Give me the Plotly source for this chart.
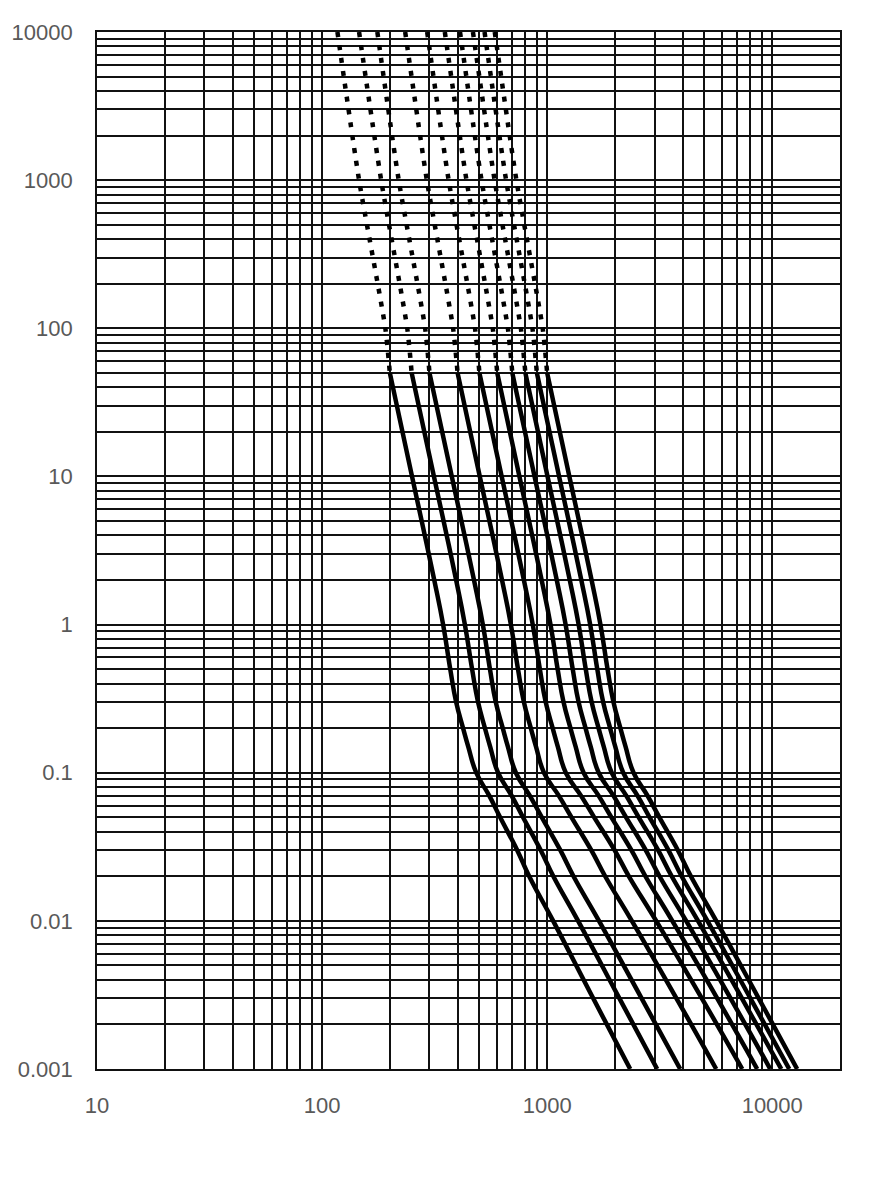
import plotly.graph_objects as go

# Time levels (s) for the dotted (upper) part and solid (lower) part
t_dot = [10000, 1000, 100, 50]
t_solid = [50, 10, 2, 1, 0.5, 0.3, 0.2, 0.15, 0.1, 0.07, 0.05, 0.03, 0.02, 0.01, 0.003, 0.001]

# Current (A) at the time levels above
cur_dot = {
    "200":  [117, 146, 191, 200],
    "250":  [146, 183, 239, 250],
    "300":  [176, 219, 287, 300],
    "400":  [234, 292, 382, 400],
    "500":  [293, 365, 478, 500],
    "600":  [351, 438, 573, 600],
    "700":  [410, 511, 669, 700],
    "800":  [468, 584, 764, 800],
    "900":  [527, 657, 860, 900],
    "1000": [585, 730, 955, 1000],
}
cur_solid = {
    "200":  [200, 251, 315, 345, 371, 394, 423, 446, 484, 553, 618, 736, 832, 1063, 1601, 2338],
    "250":  [250, 314, 394, 431, 464, 493, 529, 558, 605, 695, 781, 936, 1065, 1372, 2094, 3081],
    "300":  [300, 377, 473, 518, 557, 591, 635, 669, 726, 837, 947, 1144, 1309, 1699, 2628, 3900],
    "400":  [400, 502, 630, 690, 742, 788, 846, 892, 968, 1126, 1283, 1570, 1810, 2378, 3753, 5637],
    "500":  [500, 628, 788, 863, 928, 985, 1058, 1115, 1210, 1413, 1618, 1993, 2307, 3051, 4867, 7358],
    "600":  [600, 753, 945, 1035, 1113, 1182, 1269, 1338, 1452, 1692, 1930, 2367, 2732, 3597, 5696, 8573],
    "700":  [700, 879, 1103, 1208, 1299, 1379, 1481, 1561, 1694, 1969, 2242, 2741, 3157, 4145, 6529, 9796],
    "800":  [800, 1004, 1260, 1380, 1484, 1576, 1692, 1784, 1936, 2245, 2552, 3111, 3576, 4679, 7333, 10968],
    "900":  [900, 1130, 1418, 1553, 1670, 1773, 1904, 2007, 2178, 2519, 2851, 3456, 3958, 5151, 8000, 11900],
    "1000": [1000, 1255, 1575, 1725, 1855, 1970, 2115, 2230, 2420, 2791, 3152, 3807, 4350, 5639, 8706, 12903],
}

x_ticks = [10, 100, 1000, 10000]
x_ticktext = ["10", "100", "1000", "10000"]
y_ticks = [0.001, 0.01, 0.1, 1, 10, 100, 1000, 10000]
y_ticktext = ["0.001", "0.01", "0.1", "1", "10", "100", "1000", "10000"]

x_minor = [k * 10 ** d for d in range(1, 5) for k in range(2, 10) if k * 10 ** d <= 20000]
y_minor = [k * 10.0 ** d for d in range(-3, 4) for k in range(2, 10)]

fig = go.Figure()
for name in cur_solid:
    fig.add_trace(go.Scatter(
        x=cur_dot[name], y=t_dot, mode="lines",
        line=dict(color="black", width=4.5, dash="5px,8px", shape="spline", smoothing=0.6),
        showlegend=False, hoverinfo="skip"))
    fig.add_trace(go.Scatter(
        x=cur_solid[name], y=t_solid, mode="lines",
        line=dict(color="black", width=4.5, shape="spline", smoothing=1.3),
        showlegend=False, name=name))

grid_c = "#111111"
lab_font = dict(family="Liberation Sans, Arial, sans-serif", size=22, color="#595959")

fig.update_xaxes(
    type="log", range=[1, 4.30103], tickmode="array", tickvals=x_ticks, ticktext=x_ticktext,
    showgrid=True, gridcolor=grid_c, gridwidth=1.7, automargin=False,
    minor=dict(tickmode="array", tickvals=x_minor, showgrid=True, gridcolor=grid_c, gridwidth=1.7, ticks=""),
    showline=True, linecolor=grid_c, linewidth=1.7, mirror=True,
    ticks="", tickfont=lab_font, ticklabelstandoff=16, zeroline=False)
fig.update_yaxes(
    type="log", range=[-3, 4], tickmode="array", tickvals=y_ticks, ticktext=y_ticktext,
    showgrid=True, gridcolor=grid_c, gridwidth=1.7, automargin=False,
    minor=dict(tickmode="array", tickvals=y_minor, showgrid=True, gridcolor=grid_c, gridwidth=1.7, ticks=""),
    showline=True, linecolor=grid_c, linewidth=1.7, mirror=True,
    ticks="", tickfont=lab_font, ticklabelstandoff=18, zeroline=False)

fig.update_layout(
    width=888, height=1198,
    margin=dict(l=89, r=56, t=24, b=137),
    paper_bgcolor="white", plot_bgcolor="white",
    showlegend=False)

fig.write_html("out.html")
